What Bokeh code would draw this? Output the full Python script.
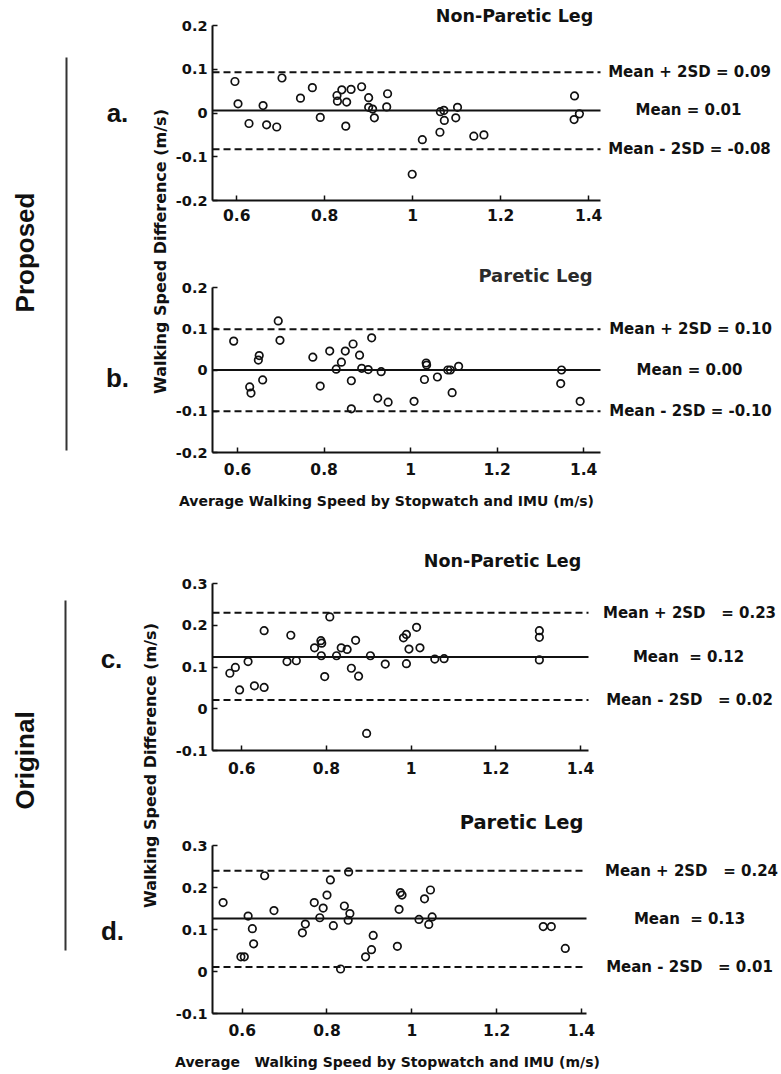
import math
from bokeh.plotting import figure
from bokeh.models import Range1d, FixedTicker, Label
from bokeh.layouts import column, row
from bokeh.embed import file_html
from bokeh.resources import INLINE

# ---------------- data ----------------
x_ticks = [0.6, 0.8, 1.0, 1.2, 1.4]
y_ticks_proposed = [-0.2, -0.1, 0.0, 0.1, 0.2]
y_ticks_original = [-0.1, 0.0, 0.1, 0.2, 0.3]

# a. Proposed, Non-Paretic Leg
a_x = [0.596, 0.603, 0.628, 0.660, 0.668, 0.691, 0.703, 0.745, 0.772, 0.790, 0.828, 0.829,
       0.839, 0.850, 0.848, 0.860, 0.884, 0.900, 0.900, 0.909, 0.913, 0.943, 0.941, 0.999,
       1.022, 1.062, 1.063, 1.071, 1.072, 1.102, 1.098, 1.139, 1.162, 1.368, 1.379, 1.367]
a_y = [0.072, 0.021, -0.024, 0.017, -0.027, -0.032, 0.080, 0.034, 0.058, -0.010, 0.040, 0.027,
       0.053, 0.025, -0.030, 0.054, 0.060, 0.035, 0.013, 0.009, -0.011, 0.044, 0.014, -0.140,
       -0.061, -0.044, 0.003, 0.006, -0.017, 0.013, -0.011, -0.053, -0.050, 0.039, -0.002, -0.015]
a_limits = [0.093, 0.006, -0.083]          # mean + 2SD, mean, mean - 2SD
a_texts = ["Mean + 2SD = 0.09", "Mean = 0.01", "Mean - 2SD = -0.08"]

# b. Proposed, Paretic Leg
b_x = [0.591, 0.628, 0.631, 0.650, 0.648, 0.658, 0.694, 0.698, 0.774, 0.791, 0.813, 0.828,
       0.840, 0.849, 0.863, 0.863, 0.867, 0.882, 0.887, 0.902, 0.910, 0.932, 0.924, 0.948,
       1.008, 1.032, 1.036, 1.037, 1.062, 1.086, 1.092, 1.096, 1.111, 1.349, 1.347, 1.392]
b_y = [0.070, -0.041, -0.056, 0.035, 0.024, -0.024, 0.119, 0.072, 0.031, -0.039, 0.046, 0.002,
       0.019, 0.046, -0.026, -0.094, 0.063, 0.036, 0.004, 0.001, 0.078, -0.004, -0.068, -0.078,
       -0.076, -0.023, 0.017, 0.012, -0.017, 0.000, 0.000, -0.055, 0.009, 0.000, -0.033, -0.076]
b_limits = [0.099, 0.000, -0.100]
b_texts = ["Mean + 2SD = 0.10", "Mean = 0.00", "Mean - 2SD = -0.10"]

# c. Original, Non-Paretic Leg
c_x = [0.572, 0.585, 0.595, 0.615, 0.630, 0.653, 0.653, 0.707, 0.729, 0.716, 0.772, 0.787,
       0.789, 0.788, 0.796, 0.808, 0.824, 0.835, 0.849, 0.859, 0.869, 0.876, 0.904, 0.939,
       0.982, 0.989, 1.013, 0.989, 0.995, 1.021, 1.056, 1.078, 1.303, 1.303, 1.303, 0.895]
c_y = [0.085, 0.099, 0.045, 0.113, 0.055, 0.051, 0.187, 0.113, 0.115, 0.176, 0.146, 0.163,
       0.157, 0.127, 0.077, 0.220, 0.127, 0.146, 0.142, 0.097, 0.164, 0.078, 0.127, 0.107,
       0.170, 0.178, 0.195, 0.108, 0.143, 0.146, 0.119, 0.120, 0.171, 0.187, 0.117, -0.059]
c_limits = [0.230, 0.124, 0.021]
c_texts = ["Mean + 2SD\u00a0\u00a0 = 0.23", "Mean\u00a0 = 0.12", "Mean - 2SD\u00a0\u00a0 = 0.02"]

# d. Original, Paretic Leg
d_x = [0.555, 0.614, 0.624, 0.653, 0.675, 0.742, 0.749, 0.770, 0.783, 0.791, 0.800, 0.808,
       0.815, 0.841, 0.850, 0.854, 0.851, 0.909, 0.970, 0.973, 0.977, 1.017, 1.030, 1.044,
       1.048, 1.040, 1.310, 1.329, 1.362, 0.597, 0.605, 0.627, 0.832, 0.891, 0.905, 0.966]
d_y = [0.164, 0.132, 0.102, 0.228, 0.145, 0.092, 0.113, 0.164, 0.128, 0.151, 0.182, 0.218,
       0.109, 0.156, 0.122, 0.138, 0.237, 0.086, 0.148, 0.188, 0.182, 0.124, 0.173, 0.194,
       0.130, 0.112, 0.107, 0.107, 0.055, 0.035, 0.035, 0.066, 0.006, 0.035, 0.052, 0.060]
d_limits = [0.240, 0.126, 0.011]
d_texts = ["Mean + 2SD\u00a0\u00a0 = 0.24", "Mean\u00a0 = 0.13", "Mean - 2SD\u00a0\u00a0 = 0.01"]

panel_titles = ["Non-Paretic Leg", "Paretic Leg", "Non-Paretic Leg", "Paretic Leg"]
panel_letters = ["a.", "b.", "c.", "d."]
group_names = ["Proposed", "Original"]
y_label = "Walking Speed Difference (m/s)"
x_label_top = "Average Walking Speed by Stopwatch and IMU (m/s)"
x_label_bottom = "Average\u00a0\u00a0 Walking Speed by Stopwatch and IMU (m/s)"

# ---------------- styling / layout ----------------
FONT = "DejaVu Sans"
LFONT = "Liberation Sans"
INK = "#111111"
PAGE_W = 781
LEFT_W = 170                 # width of the left strip (group names, letters, y label)
MAIN_W = PAGE_W - LEFT_W     # width of the plotting column
AX_L = 212                   # page x of the y axes


def blank(width, top, bottom, x0):
    """A figure without axes whose ranges are page pixels (for free text)."""
    p = figure(width=width, height=bottom - top, x_range=Range1d(x0, x0 + width),
               y_range=Range1d(bottom, top), output_backend="svg", toolbar_location=None,
               x_axis_location=None, y_axis_location=None, min_border=0)
    p.outline_line_color = None
    p.grid.visible = False
    p.background_fill_color = "white"
    p.border_fill_color = "white"
    return p


def txt(p, x, y, text, size, font=FONT, angle=0.0, color=INK):
    p.add_layout(Label(x=x, y=y, text=text, angle=angle, text_align="center",
                       text_baseline="middle", text_font=font, text_font_style="bold",
                       text_font_size=size, text_color=color))


def panel(fig_top, fig_h, axis_box, xb, yb, yticks, xs, ys, limits, texts, text_cx,
          title, title_pos, title_size, title_color, x_standoff):
    ax_r, ax_t, ax_b = axis_box

    def X(px):
        return xb[0] + (px - AX_L) * (xb[1] - xb[0]) / (ax_r - AX_L)

    def Y(py):
        return yb[0] + (ax_b - py) * (yb[1] - yb[0]) / (ax_b - ax_t)

    p = figure(width=MAIN_W, height=fig_h,
               x_range=Range1d(xb[0], X(PAGE_W)), y_range=Range1d(yb[0], Y(fig_top)),
               output_backend="svg", toolbar_location=None,
               min_border_left=AX_L - LEFT_W, min_border_right=0, min_border_top=0,
               min_border_bottom=fig_top + fig_h - ax_b)
    p.outline_line_color = None
    p.grid.visible = False
    p.background_fill_color = "white"
    p.border_fill_color = "white"

    p.xaxis.ticker = FixedTicker(ticks=x_ticks)
    p.yaxis.ticker = FixedTicker(ticks=yticks)
    p.xaxis.bounds = xb
    p.yaxis.bounds = yb
    p.xaxis.major_label_overrides = {1.0: "1"}
    p.yaxis.major_label_overrides = {0.0: "0", -0.1: "-0.1", -0.2: "-0.2"}
    for ax in (p.xaxis[0], p.yaxis[0]):
        ax.axis_line_width = 2
        ax.axis_line_color = INK
        ax.major_tick_in = 5
        ax.major_tick_out = 0
        ax.major_tick_line_width = 1.5
        ax.major_tick_line_color = INK
        ax.minor_tick_line_color = None
        ax.major_label_text_font = FONT
        ax.major_label_text_font_style = "bold"
        ax.major_label_text_color = INK
    p.yaxis.major_label_text_font_size = "14.5px"
    p.xaxis.major_label_text_font_size = "15.5px"
    p.yaxis.major_label_standoff = 5
    p.xaxis.major_label_standoff = x_standoff

    # limit lines (mean +/- 2SD dashed, mean solid), spanning the axis extent
    dashed = [limits[0], limits[2]]
    p.segment(x0=[xb[0]] * 2, y0=dashed, x1=[xb[1]] * 2, y1=dashed,
              line_color=INK, line_width=2, line_dash="7 4")
    p.segment(x0=[xb[0]], y0=[limits[1]], x1=[xb[1]], y1=[limits[1]],
              line_color=INK, line_width=2)
    for v, t, cx in zip(limits, texts, text_cx):
        txt(p, X(cx), v, t, "15px")

    p.scatter(xs, ys, marker="circle", size=7.5, fill_color=None, line_color=INK,
              line_width=1.7)

    txt(p, X(title_pos[0]), Y(title_pos[1]), title, title_size, color=title_color)
    return p


fa = panel(0, 232, (600, 25, 200), (0.545, 1.427), (-0.2, 0.2), y_ticks_proposed,
           a_x, a_y, a_limits, a_texts, [689, 688, 689],
           panel_titles[0], (514, 15), "17.5px", INK, 8)
fb = panel(232, 253, (600, 287, 452), (0.542, 1.439), (-0.2, 0.2), y_ticks_proposed,
           b_x, b_y, b_limits, b_texts, [690, 689, 690],
           panel_titles[1], (535, 275), "18px", "#2a2a2a", 10)
s1 = blank(PAGE_W, 485, 512, 0)
txt(s1, 386, 500, x_label_top, "14px")
fc = panel(512, 278, (588, 583, 750), (0.531, 1.419), (-0.1, 0.3), y_ticks_original,
           c_x, c_y, c_limits, c_texts, [689, 688, 689],
           panel_titles[2], (502, 560), "17.5px", INK, 11)
fd = panel(790, 257, (586, 845, 1013), (0.530, 1.412), (-0.1, 0.3), y_ticks_original,
           d_x, d_y, d_limits, d_texts, [691, 689, 689],
           panel_titles[3], (521, 822), "19.5px", INK, 10)
fe = blank(PAGE_W, 1047, 1074, 0)
txt(fe, 387, 1061, x_label_bottom, "14px")


def left_strip(top, bottom, name, name_y, line_x, line_y0, line_y1, letters, ylab_x, ylab_y):
    p = blank(LEFT_W, top, bottom, 0)
    p.line([line_x, line_x], [line_y0, line_y1], line_color="#333333", line_width=2)
    txt(p, 24, name_y, name, "26px", font=LFONT, angle=math.pi / 2)
    for (lx, ly, t) in letters:
        txt(p, lx, ly, t, "26px", font=LFONT)
    txt(p, ylab_x, ylab_y, y_label, "16px", angle=math.pi / 2)
    return p


lt = left_strip(0, 485, group_names[0], 252, 66, 57, 450,
                [(117, 112, panel_letters[0]), (117, 377, panel_letters[1])], 160, 251)
lb = left_strip(512, 1047, group_names[1], 760, 65, 600, 950,
                [(111, 658, panel_letters[2]), (112, 930, panel_letters[3])], 150, 765)

layout = column(row(lt, column(fa, fb)), s1, row(lb, column(fc, fd)), fe)

open("out.html", "w").write(file_html(layout, INLINE))
